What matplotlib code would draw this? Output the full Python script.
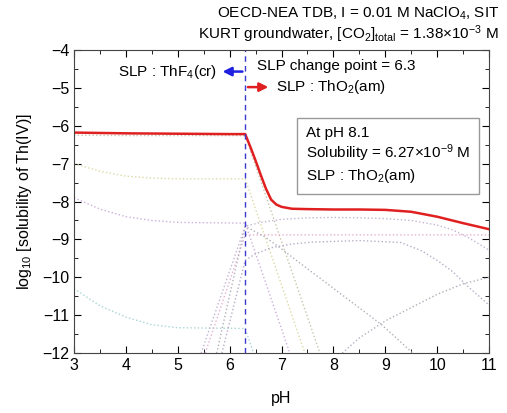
import matplotlib
matplotlib.use("Agg")
import matplotlib.pyplot as plt
from matplotlib.ticker import MultipleLocator

plt.rcParams['font.family'] = ['Liberation Sans', 'DejaVu Sans']
plt.rcParams['mathtext.default'] = 'regular'

# total solubility (solid red)
total_ph = [3, 3.5, 4, 5, 6, 6.3, 6.4, 6.5, 6.6, 6.7, 6.8, 6.9, 7.0, 7.2, 7.5, 8, 8.5, 9, 9.5, 10, 10.5, 11]
total_log = [-6.18, -6.19, -6.2, -6.21, -6.22, -6.22, -6.56, -6.92, -7.3, -7.66, -7.95, -8.08, -8.14, -8.19, -8.2, -8.21, -8.21, -8.22, -8.27, -8.4, -8.57, -8.73]

# individual species (dotted)
sp1_ph = [3, 4, 5, 6.3, 7.74]
sp1_log = [-6.25, -6.26, -6.26, -6.26, -12]
sp2_ph = [3, 3.5, 4, 4.5, 5, 6.3, 7.45]
sp2_log = [-7.0, -7.2, -7.33, -7.38, -7.4, -7.4, -12]
sp3_ph = [3, 3.5, 4, 4.5, 5, 6.3, 7.16]
sp3_log = [-7.9, -8.2, -8.4, -8.5, -8.55, -8.57, -12]
sp4_ph = [3, 3.5, 4, 4.5, 5, 6.3, 6.46]
sp4_log = [-10.3, -10.75, -11.05, -11.25, -11.33, -11.35, -12]
sp5_ph = [5.53, 6.3, 11]
sp5_log = [-12, -8.88, -8.88]
sp6_ph = [5.45, 6.3, 6.6, 7, 7.5, 8, 8.5, 9, 9.5, 10, 10.3, 10.6, 11]
sp6_log = [-12, -8.65, -8.55, -8.47, -8.43, -8.42, -8.43, -8.45, -8.5, -8.62, -8.75, -8.95, -9.28]
sp7_ph = [5.85, 6.3, 6.5, 6.8, 7.2, 7.6, 8.5, 9.3, 9.7, 10, 10.3, 10.6, 11]
sp7_log = [-12, -9.55, -9.38, -9.22, -9.12, -9.07, -9.03, -9.08, -9.3, -9.55, -9.85, -10.25, -10.73]
sp8_ph = [8.17, 8.5, 9, 9.5, 10, 10.5, 11]
sp8_log = [-12, -11.6, -11.15, -10.8, -10.45, -10.17, -10.0]
sp9_ph = [5.75, 6.3, 6.7, 7.0, 7.36, 7.74, 8.3, 8.94, 9.53]
sp9_log = [-12, -8.65, -8.95, -9.25, -9.63, -10.02, -10.6, -11.26, -12]

species = [
    (sp1_ph, sp1_log, '#c8c4ac'),
    (sp2_ph, sp2_log, '#dcdaa4'),
    (sp3_ph, sp3_log, '#ccb0dc'),
    (sp4_ph, sp4_log, '#a8d4d4'),
    (sp5_ph, sp5_log, '#e8b0d0'),
    (sp6_ph, sp6_log, '#c4b4d4'),
    (sp7_ph, sp7_log, '#b8acc8'),
    (sp8_ph, sp8_log, '#b0b0bc'),
    (sp9_ph, sp9_log, '#b0b0bc'),
]

slp_change = 6.3

fig = plt.figure(figsize=(5.07, 4.13), dpi=100)
ax = fig.add_axes([0.146, 0.145, 0.8185, 0.734])

for ph, lg, c in species:
    ax.plot(ph, lg, linestyle=':', color=c, linewidth=1.0)

ax.plot(total_ph, total_log, color='#e02020', linewidth=1.8)
ax.axvline(slp_change, color='#3a3ad0', linestyle=(0, (4, 3)), linewidth=1.0)

ax.set_xlim(3, 11)
ax.set_ylim(-12, -4)
ax.xaxis.set_major_locator(MultipleLocator(1))
ax.xaxis.set_minor_locator(MultipleLocator(0.5))
ax.yaxis.set_major_locator(MultipleLocator(1))
ax.yaxis.set_minor_locator(MultipleLocator(0.5))
ax.tick_params(which='both', direction='in', top=True, right=True, labelsize=11.5)
ax.tick_params(which='major', length=5)
ax.tick_params(which='minor', length=3)
for s in ax.spines.values():
    s.set_color('#444444')

ax.set_xlabel('pH', fontsize=11.5, labelpad=13)
ax.set_ylabel('log$_{10}$ [solubility of Th(IV)]', fontsize=11.5, labelpad=6)

# arrows and labels
ax.annotate('', xy=(5.81, -4.57), xytext=(slp_change, -4.57),
            arrowprops=dict(arrowstyle='-|>', color='#2020e0', lw=1.8, mutation_scale=13))
ax.text(5.76, -4.57, 'SLP : ThF$_4$(cr)', ha='right', va='center', fontsize=11)
ax.annotate('', xy=(6.8, -4.98), xytext=(slp_change, -4.98),
            arrowprops=dict(arrowstyle='-|>', color='#e02020', lw=1.8, mutation_scale=13))
ax.text(6.9, -4.98, 'SLP : ThO$_2$(am)', ha='left', va='center', fontsize=11)
ax.text(6.52, -4.42, 'SLP change point = 6.3', ha='left', va='center', fontsize=11)

ax.text(7.47, -6.78,
        'At pH 8.1\nSolubility = 6.27$\\times$10$^{-9}$ M\nSLP : ThO$_2$(am)',
        ha='left', va='center', fontsize=11, linespacing=1.2,
        bbox=dict(boxstyle='square,pad=0.6', facecolor='white', edgecolor='#999999', lw=1.0))

fig.text(0.985, 0.968, 'OECD-NEA TDB, I = 0.01 M NaClO$_4$, SIT',
         ha='right', va='center', fontsize=11)
fig.text(0.985, 0.918, 'KURT groundwater, [CO$_2$]$_{total}$ = 1.38$\\times$10$^{-3}$ M',
         ha='right', va='center', fontsize=11)

fig.savefig('out.png', dpi=100)
